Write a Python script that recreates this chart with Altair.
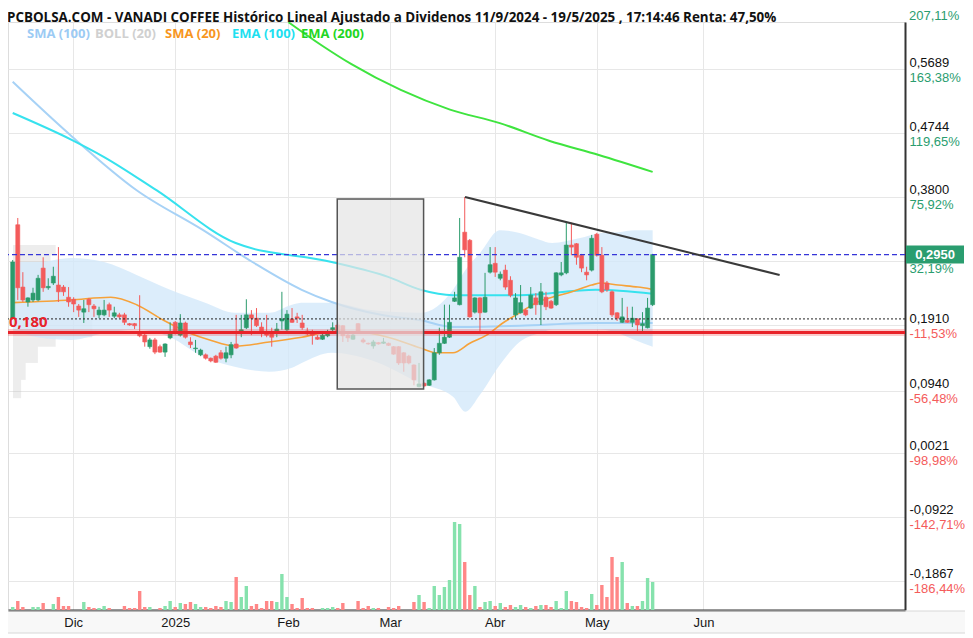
import json
import pandas as pd
import altair as alt

TITLE = "PCBOLSA.COM - VANADI COFFEE Histórico Lineal Ajustado a Dividenos 11/9/2024 - 19/5/2025 , 17:14:46 Renta: 47,50%"

# ---------------- data ----------------
open_ = [0.201, 0.339, 0.247, 0.225, 0.228, 0.228, 0.275, 0.246, 0.253, 0.250,
         0.247, 0.232, 0.229, 0.219, 0.210, 0.229, 0.219, 0.206, 0.206, 0.221,
         0.204, 0.206, 0.206, 0.193, 0.193, 0.179, 0.176, 0.159, 0.169, 0.159,
         0.151, 0.172, 0.195, 0.176, 0.194, 0.166, 0.156, 0.147, 0.147, 0.142,
         0.145, 0.150, 0.142, 0.147, 0.163, 0.179, 0.187, 0.206, 0.201, 0.188,
         0.181, 0.179, 0.179, 0.197, 0.184, 0.200, 0.203, 0.194, 0.182, 0.181,
         0.173, 0.170, 0.175, 0.184, 0.191, 0.190, 0.176, 0.170, 0.193, 0.169,
         0.164, 0.160, 0.165, 0.164, 0.164, 0.159, 0.159, 0.150, 0.145, 0.132,
         0.100, 0.105, 0.102, 0.110, 0.150, 0.164, 0.173, 0.226, 0.221, 0.328,
         0.316, 0.210, 0.231, 0.210, 0.269, 0.282, 0.260, 0.272, 0.257, 0.206,
         0.209, 0.213, 0.216, 0.231, 0.221, 0.232, 0.226, 0.221, 0.265, 0.268,
         0.309, 0.311, 0.294, 0.269, 0.272, 0.325, 0.294, 0.253, 0.240, 0.209,
         0.195, 0.198, 0.195, 0.200, 0.190, 0.187, 0.221]
high_ = [0.287, 0.349, 0.269, 0.232, 0.246, 0.265, 0.291, 0.260, 0.277, 0.306,
         0.250, 0.247, 0.232, 0.222, 0.228, 0.231, 0.222, 0.218, 0.228, 0.224,
         0.218, 0.209, 0.209, 0.194, 0.194, 0.235, 0.178, 0.172, 0.172, 0.162,
         0.164, 0.195, 0.197, 0.207, 0.196, 0.173, 0.169, 0.156, 0.149, 0.143,
         0.147, 0.154, 0.159, 0.166, 0.206, 0.206, 0.229, 0.213, 0.216, 0.195,
         0.206, 0.187, 0.194, 0.240, 0.213, 0.216, 0.209, 0.206, 0.187, 0.184,
         0.176, 0.178, 0.184, 0.195, 0.195, 0.191, 0.179, 0.179, 0.194, 0.172,
         0.165, 0.169, 0.166, 0.172, 0.165, 0.160, 0.160, 0.151, 0.147, 0.133,
         0.135, 0.106, 0.111, 0.157, 0.187, 0.221, 0.221, 0.240, 0.349, 0.380,
         0.318, 0.232, 0.232, 0.268, 0.306, 0.306, 0.270, 0.280, 0.263, 0.238,
         0.250, 0.215, 0.247, 0.238, 0.253, 0.240, 0.228, 0.269, 0.284, 0.342,
         0.342, 0.312, 0.296, 0.277, 0.324, 0.327, 0.306, 0.256, 0.242, 0.210,
         0.231, 0.218, 0.218, 0.201, 0.210, 0.231, 0.296]
low_ = [0.200, 0.228, 0.225, 0.218, 0.225, 0.226, 0.240, 0.243, 0.250, 0.225,
        0.234, 0.218, 0.210, 0.203, 0.194, 0.210, 0.203, 0.201, 0.204, 0.203,
        0.201, 0.201, 0.191, 0.190, 0.185, 0.173, 0.159, 0.156, 0.148, 0.150,
        0.144, 0.170, 0.177, 0.174, 0.171, 0.157, 0.150, 0.145, 0.140, 0.136,
        0.135, 0.140, 0.136, 0.142, 0.156, 0.173, 0.185, 0.176, 0.188, 0.173,
        0.173, 0.159, 0.173, 0.184, 0.181, 0.194, 0.194, 0.184, 0.176, 0.162,
        0.169, 0.169, 0.173, 0.182, 0.173, 0.166, 0.166, 0.169, 0.178, 0.164,
        0.162, 0.156, 0.162, 0.163, 0.160, 0.147, 0.132, 0.122, 0.133, 0.102,
        0.099, 0.100, 0.101, 0.109, 0.147, 0.163, 0.172, 0.225, 0.220, 0.291,
        0.202, 0.208, 0.181, 0.209, 0.267, 0.262, 0.257, 0.243, 0.232, 0.201,
        0.208, 0.204, 0.215, 0.206, 0.191, 0.213, 0.215, 0.219, 0.263, 0.266,
        0.294, 0.280, 0.269, 0.257, 0.270, 0.292, 0.238, 0.240, 0.203, 0.197,
        0.194, 0.194, 0.188, 0.181, 0.181, 0.186, 0.219]
close_ = [0.284, 0.246, 0.228, 0.231, 0.238, 0.260, 0.246, 0.248, 0.263, 0.240,
          0.240, 0.225, 0.222, 0.213, 0.215, 0.221, 0.215, 0.213, 0.213, 0.213,
          0.209, 0.203, 0.195, 0.191, 0.190, 0.175, 0.166, 0.169, 0.151, 0.151,
          0.163, 0.180, 0.179, 0.194, 0.173, 0.162, 0.157, 0.154, 0.142, 0.138,
          0.136, 0.142, 0.150, 0.162, 0.157, 0.184, 0.206, 0.201, 0.190, 0.181,
          0.176, 0.173, 0.185, 0.200, 0.207, 0.195, 0.201, 0.187, 0.178, 0.176,
          0.170, 0.176, 0.179, 0.187, 0.181, 0.175, 0.172, 0.176, 0.179, 0.166,
          0.163, 0.166, 0.163, 0.166, 0.161, 0.148, 0.135, 0.135, 0.135, 0.110,
          0.104, 0.101, 0.110, 0.150, 0.164, 0.173, 0.195, 0.231, 0.291, 0.302,
          0.203, 0.231, 0.209, 0.232, 0.280, 0.269, 0.266, 0.247, 0.235, 0.231,
          0.224, 0.206, 0.235, 0.221, 0.240, 0.218, 0.216, 0.268, 0.268, 0.309,
          0.306, 0.291, 0.275, 0.265, 0.319, 0.294, 0.240, 0.243, 0.206, 0.201,
          0.203, 0.195, 0.201, 0.191, 0.193, 0.216, 0.295]
# volume, thousands of shares
volume_k = [30, 90, 30, 0, 30, 30, 70, 0, 60, 130, 40, 40, 0, 0, 80, 30, 20, 20, 40, 20,
            0, 0, 40, 20, 20, 190, 30, 30, 0, 20, 40, 90, 30, 70, 60, 80, 60, 30, 30, 20,
            40, 30, 90, 80, 330, 130, 240, 40, 60, 20, 90, 90, 80, 360, 130, 60, 20, 120, 20, 20,
            0, 20, 20, 30, 20, 70, 0, 0, 90, 20, 40, 20, 20, 0, 30, 20, 40, 0, 0, 80,
            150, 80, 20, 240, 150, 230, 300, 880, 860, 480, 150, 240, 30, 80, 90, 40, 70, 30, 50, 30,
            50, 30, 20, 40, 50, 50, 30, 90, 20, 190, 90, 80, 30, 20, 160, 50, 250, 130, 530, 330,
            480, 70, 40, 40, 90, 320, 280]

# indicators (session index, value)
sma100_i = [0, 11.7, 24.4, 37.5, 47.2, 56.9, 62.8, 72.5, 80.3, 86.7, 99.8, 114.8, 126]
sma100_v = [0.550, 0.469, 0.390, 0.331, 0.284, 0.243, 0.225, 0.206, 0.198, 0.188, 0.190, 0.194, 0.194]
ema100_i = [0, 11.7, 18, 28.3, 43.9, 62.8, 73.9, 80.3, 86.7, 99.8, 114.8, 126]
ema100_v = [0.504, 0.464, 0.439, 0.390, 0.312, 0.284, 0.262, 0.243, 0.235, 0.235, 0.243, 0.237]
ema200_i = [54.3, 60.8, 66.7, 76.4, 86.1, 95.9, 105.6, 115.4, 126]
ema200_v = [0.638, 0.604, 0.576, 0.538, 0.509, 0.489, 0.463, 0.442, 0.417]
sma20_i = [0, 11.5, 19.3, 24.4, 29.7, 34.9, 38.8, 43.9, 50.5, 56.9, 62.8, 67.2, 73.9, 80.3,
           83.6, 86.7, 90, 93.3, 96.5, 99.8, 103.1, 106.2, 110.1, 114, 115.9, 119.2, 123.1, 125.7]
sma20_v = [0.224, 0.228, 0.232, 0.221, 0.198, 0.179, 0.169, 0.160, 0.166, 0.173, 0.181, 0.181, 0.173, 0.157,
           0.150, 0.150, 0.164, 0.176, 0.194, 0.209, 0.224, 0.232, 0.240, 0.250, 0.253, 0.250, 0.247, 0.244]
boll_i = [0, 4.9, 11.5, 18, 24.4, 31, 37.5, 43.9, 50.5, 55, 56.9, 62.8, 70.6, 80.3, 86.7, 89.1,
          92, 95.9, 99.8, 103.7, 106.2, 111.5, 115.9, 119.2, 122.5, 126]
boll_up = [0.284, 0.284, 0.290, 0.284, 0.265, 0.243, 0.225, 0.209, 0.209, 0.221, 0.224, 0.224, 0.213,
           0.209, 0.243, 0.272, 0.297, 0.331, 0.327, 0.317, 0.312, 0.319, 0.327, 0.328, 0.331, 0.331]
boll_lo = [0.184, 0.173, 0.169, 0.179, 0.184, 0.173, 0.144, 0.129, 0.122, 0.128, 0.135, 0.150, 0.139,
           0.105, 0.085, 0.063, 0.088, 0.132, 0.166, 0.179, 0.184, 0.184, 0.184, 0.179, 0.169, 0.159]

# volume-by-price profile (price bins and relative size)
vp_top = [0.309, 0.294, 0.277, 0.257, 0.228, 0.198, 0.173, 0.159, 0.135, 0.110]
vp_bot = [0.294, 0.277, 0.257, 0.228, 0.198, 0.173, 0.159, 0.135, 0.110, 0.083]
vp_size = [8.4, 7.4, 9.0, 11.3, 18.5, 15.6, 8.4, 4.9, 2.5, 1.6]

# drawings
trend_i = [89.05, 151.0]
trend_v = [0.380, 0.2648]
box_i = [63.9, 80.9]
box_v = [0.0965, 0.377]
start_price = 0.20
last_price = 0.295
support = 0.180

# axes
x_ticks = [11.9, 32.0, 54.2, 74.3, 94.9, 115.0, 136.0]
x_labels = ["Dic", "2025", "Feb", "Mar", "Abr", "May", "Jun"]
price_ticks = [0.5689, 0.4744, 0.3800, 0.1910, 0.0940, 0.0021, -0.0922, -0.1867]
price_labels = ["0,5689", "0,4744", "0,3800", "0,1910", "0,0940", "0,0021", "-0,0922", "-0,1867"]
pct_ticks = [0.5689, 0.4744, 0.3800, 0.2855, 0.1910, 0.0940, 0.0021, -0.0922, -0.1867]
pct_labels = ["163,38%", "119,65%", "75,92%", "32,19%", "-11,53%", "-56,48%", "-98,98%", "-142,71%", "-186,44%"]
top_pct_label = "207,11%"
legend_names = ["SMA (100)", "BOLL (20)", "SMA (20)", "EMA (100)", "EMA (200)"]

# ---------------- style ----------------
W, H = 897, 588
XDOM = [0.06, 174.7]
YDOM = [-0.2297, 0.6383]
GREEN, RED = "#2b9b6c", "#f35b5b"
VGREEN, VRED = "#86e2ad", "#ff8787"
PCT_G, PCT_R = "#2a9d6f", "#f45b5b"
C_SMA100, C_EMA100, C_EMA200, C_SMA20 = "#a7d2f6", "#37e2ee", "#3fe43f", "#f6a23a"
legend_colors = ["#9ccbf4", "#d0d0d0", "#f7961e", "#1ee0f0", "#22d622"]
legend_x = [19, 87, 157, 224, 293]

xs = alt.Scale(domain=XDOM, nice=False, zero=False)
ys = alt.Scale(domain=YDOM, nice=False, zero=False)

XAX = alt.Axis(values=x_ticks, labelExpr=f"{json.dumps(x_labels)}[indexof({json.dumps(x_ticks)}, datum.value)]",
               grid=True, gridColor="#e7e7e7", ticks=False, domainColor="#333333", domainWidth=2,
               labelFont="Liberation Sans", labelFontSize=13, labelColor="#111111", labelPadding=6,
               labelFontWeight=alt.expr("datum.label == '2025' ? 'bold' : 'normal'"),
               labelFlush=False, labelOverlap=False, title=None)
YAX = alt.Axis(orient="right", values=price_ticks,
               labelExpr=f"{json.dumps(price_labels)}[indexof({json.dumps(price_ticks)}, datum.value)]",
               grid=False, ticks=False, domainColor="#333333", domainWidth=2,
               labelFont="Liberation Sans", labelFontSize=13, labelColor="#111111",
               labelBaseline="alphabetic", labelOffset=-3, labelPadding=4, labelFlush=False,
               labelOverlap=False, title=None)
PAX = alt.Axis(orient="right", values=pct_ticks,
               labelExpr=f"{json.dumps(pct_labels)}[indexof({json.dumps(pct_ticks)}, datum.value)]",
               grid=True, gridColor="#e7e7e7", ticks=False, domain=False,
               labelFont="Liberation Sans", labelFontSize=13,
               labelColor=alt.expr(f"datum.value > 0.216 ? '{PCT_G}' : '{PCT_R}'"),
               labelBaseline="top", labelOffset=2, labelPadding=4, labelFlush=False,
               labelOverlap=False, title=None)


def X(f):
    return alt.X(f, type="quantitative", scale=xs, axis=XAX)


def Y(f):
    return alt.Y(f, type="quantitative", scale=ys, axis=YAX)


candles = pd.DataFrame({"i": list(range(len(close_))), "o": open_, "h": high_, "l": low_,
                        "c": close_, "vol": volume_k})
up = alt.condition("datum.c >= datum.o", alt.value(GREEN), alt.value(RED))
vup = alt.condition("datum.c >= datum.o", alt.value(VGREEN), alt.value(VRED))

# light strip behind the month labels
strip = alt.Chart(pd.DataFrame({"k": [0]})).mark_rect(
    fill="#808080", fillOpacity=0.06, stroke="#d8d8d8", strokeWidth=1).encode(
    x=alt.value(-1), x2=alt.value(959), y=alt.value(589), y2=alt.value(611))

prof = pd.DataFrame({"x0": [XDOM[0]] * len(vp_size), "x1": [XDOM[0] + s for s in vp_size],
                     "t": vp_top, "b": vp_bot})
profile = alt.Chart(prof).mark_rect(color="#c4c4c4", opacity=0.3).encode(
    x=X("x0"), x2="x1", y=Y("t"), y2="b")

band = alt.Chart(pd.DataFrame({"i": boll_i, "u": boll_up, "l": boll_lo})).mark_area(
    color="#d3e9fa", opacity=0.8, interpolate="monotone").encode(x=X("i"), y=Y("u"), y2="l")


def line(ii, vv, color, w):
    return alt.Chart(pd.DataFrame({"i": ii, "v": vv})).mark_line(
        color=color, strokeWidth=w, interpolate="monotone").encode(x=X("i"), y=Y("v"))


sma100 = line(sma100_i, sma100_v, C_SMA100, 2)
ema100 = line(ema100_i, ema100_v, C_EMA100, 2)
ema200 = line(ema200_i, ema200_v, C_EMA200, 2)
sma20 = line(sma20_i, sma20_v, C_SMA20, 1.6)

wicks = alt.Chart(candles).mark_rule(strokeWidth=1).encode(x=X("i"), y=Y("l"), y2="h", color=up)
bodies = alt.Chart(candles).mark_bar(size=4, strokeWidth=0.6).encode(
    x=X("i"), y=Y("o"), y2="c", color=up, stroke=up)

ref_start = alt.Chart(pd.DataFrame({"v": [start_price]})).mark_rule(
    color="#222222", strokeWidth=1, strokeDash=[2, 2]).encode(y=Y("v"))
ref_last = alt.Chart(pd.DataFrame({"v": [last_price]})).mark_rule(
    color="#3535d8", strokeWidth=1.3, strokeDash=[5, 3]).encode(y=Y("v"))
ref_sup_glow = alt.Chart(pd.DataFrame({"v": [support]})).mark_rule(
    color="#f03030", strokeWidth=7, opacity=0.25).encode(y=Y("v"))
ref_sup = alt.Chart(pd.DataFrame({"v": [support]})).mark_rule(
    color="#e8232a", strokeWidth=3).encode(y=Y("v"))
sup_label = alt.Chart(pd.DataFrame({"v": [support], "t": ["0,180"]})).mark_text(
    align="left", baseline="bottom", dy=-2, font="Open Sans", fontSize=15, fontWeight="bold",
    color="#e8232a").encode(x=alt.value(1), y=Y("v"), text="t:N")

box = alt.Chart(pd.DataFrame({"x0": [box_i[0]], "x1": [box_i[1]], "y0": [box_v[0]], "y1": [box_v[1]]})).mark_rect(
    fill="#e4e4e4", fillOpacity=0.72, stroke="#555555", strokeWidth=1.5).encode(
    x=X("x0"), x2="x1", y=Y("y0"), y2="y1")

trend = alt.Chart(pd.DataFrame({"i": trend_i, "v": trend_v})).mark_line(
    color="#3a3a3a", strokeWidth=2).encode(x=X("i"), y=Y("v"))

last_box = alt.Chart(pd.DataFrame({"a": [last_price + 0.0133], "b": [last_price - 0.0133]})).mark_rect(
    color=PCT_G).encode(x=alt.value(898), x2=alt.value(956), y=Y("a"), y2="b")
last_txt = alt.Chart(pd.DataFrame({"v": [last_price], "t": ["0,2950"]})).mark_text(
    align="center", baseline="middle", font="Liberation Sans", fontSize=13, fontWeight="bold",
    color="white").encode(x=alt.value(927), y=Y("v"), text="t:N")
top_txt = alt.Chart(pd.DataFrame({"t": [top_pct_label]})).mark_text(
    align="left", baseline="middle", font="Liberation Sans", fontSize=13, color=PCT_G).encode(
    x=alt.value(901), y=alt.value(-6), text="t:N")
title_txt = alt.Chart(pd.DataFrame({"t": [TITLE]})).mark_text(
    align="left", baseline="middle", font="Open Sans", fontSize=13.4, fontWeight="bold",
    color="#111111").encode(x=alt.value(-1), y=alt.value(-4.5), text="t:N")

leg_layers = [
    alt.Chart(pd.DataFrame({"t": [name]})).mark_text(
        align="left", baseline="middle", font="Open Sans", fontSize=13, fontWeight="bold",
        color=col).encode(x=alt.value(px), y=alt.value(12), text="t:N")
    for name, col, px in zip(legend_names, legend_colors, legend_x)
]

price = alt.layer(strip, profile, band, sma100, ema100, ema200, sma20, wicks, bodies,
                  ref_start, ref_last, ref_sup_glow, ref_sup, box, trend, sup_label,
                  last_box, last_txt, top_txt, title_txt, *leg_layers)

vol = alt.Chart(candles).mark_bar(size=3.4).encode(
    x=X("i"), y=alt.Y("vol:Q", scale=alt.Scale(domain=[0, 5880], nice=False, zero=True), axis=None),
    color=vup)

pct = alt.Chart(pd.DataFrame({"v": pct_ticks})).mark_point(opacity=0).encode(
    y=alt.Y("v:Q", scale=alt.Scale(domain=YDOM, nice=False, zero=False), axis=PAX))

chart = alt.layer(price, vol, pct).resolve_scale(y="independent").properties(
    width=W, height=H,
    autosize=alt.AutoSizeParams(type="none"),
    padding={"left": 0, "top": 14, "right": 60, "bottom": 25},
).configure_view(stroke="#dddddd").configure(background="white")

chart.save("out.html", embed_options={"renderer": "svg", "actions": False})
